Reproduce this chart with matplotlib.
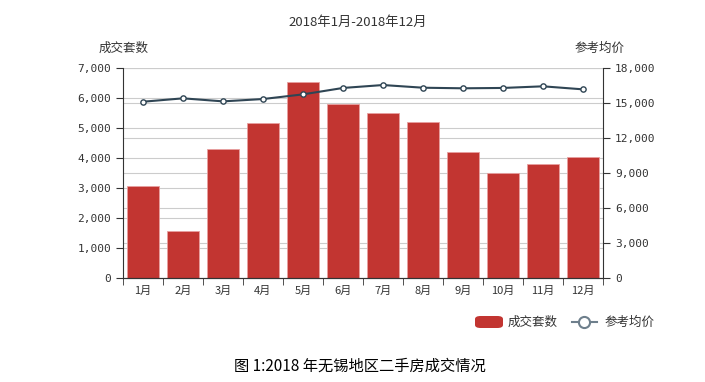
import matplotlib.pyplot as plt
import numpy as np
from matplotlib.ticker import FuncFormatter, FixedLocator
from matplotlib.patches import FancyBboxPatch

plt.rcParams['font.family'] = ['Noto Sans CJK SC', 'DejaVu Sans']

# data
months = ['1月', '2月', '3月', '4月', '5月', '6月', '7月', '8月', '9月', '10月', '11月', '12月']
deals = [3070, 1580, 4310, 5180, 6530, 5790, 5490, 5210, 4210, 3510, 3790, 4040]
avg_price = [15110, 15400, 15140, 15340, 15740, 16290, 16540, 16310, 16260, 16290, 16430, 16170]

bar_color = '#c23531'
line_color = '#2f4554'
axis_color = '#333333'
mono = ['DejaVu Sans Mono']

fig = plt.figure(figsize=(7.05, 3.82), dpi=100)
ax = fig.add_axes([123 / 705, 1 - 278 / 382, 480 / 705, 210 / 382])
ax2 = ax.twinx()

left_max, right_max = 7000, 18000
left_ticks = np.arange(0, left_max + 1, 1000)
right_ticks = np.arange(0, right_max + 1, 3000)

# grid lines of both axes, drawn behind the bars
for v in left_ticks[1:]:
    ax.axhline(v, color='#cccccc', linewidth=0.8, zorder=0)
for v in right_ticks[1:]:
    ax.axhline(v * left_max / right_max, color='#cccccc', linewidth=0.8, zorder=0)

x = np.arange(len(months))
ax.bar(x, deals, width=0.8, color=bar_color, edgecolor='#e8a0a0', linewidth=0.6, zorder=2)
ax.set_xlim(-0.5, len(months) - 0.5)
ax.set_ylim(0, left_max)
ax.set_yticks(left_ticks)
ax.yaxis.set_major_formatter(FuncFormatter(lambda v, p: f'{int(v):,}'))

ax2.plot(x, avg_price, color=line_color, linewidth=1.5, marker='o', markersize=3.8,
         markerfacecolor='white', markeredgecolor=line_color, markeredgewidth=1, zorder=5)
ax2.set_ylim(0, right_max)
ax2.set_yticks(right_ticks)
ax2.yaxis.set_major_formatter(FuncFormatter(lambda v, p: f'{int(v):,}'))

# ticks and spines
ax.set_xticks(x)
ax.set_xticklabels(months)
ax.xaxis.set_minor_locator(FixedLocator(np.arange(-0.5, len(months), 1)))
ax.tick_params(axis='x', which='major', length=0, pad=6, labelsize=8, colors=axis_color)
ax.tick_params(axis='x', which='minor', length=5, color=axis_color)
ax.tick_params(axis='y', length=5, color=axis_color, labelsize=8, labelcolor=axis_color)
ax2.tick_params(axis='y', length=5, color=axis_color, labelsize=8, labelcolor=axis_color)
for lab in ax.get_yticklabels() + ax2.get_yticklabels():
    lab.set_family(mono)
for a in (ax, ax2):
    a.spines['top'].set_visible(False)
    for s in ('left', 'right', 'bottom'):
        a.spines[s].set_color(axis_color)
ax2.spines['left'].set_visible(False)
ax.spines['right'].set_visible(False)

# titles
fig.text(358 / 705, 1 - 22 / 382, '2018年1月-2018年12月', ha='center', va='center',
         fontsize=9.5, color=axis_color)
fig.text(124 / 705, 1 - 48 / 382, '成交套数', ha='center', va='center', fontsize=9, color=axis_color)
fig.text(600 / 705, 1 - 48 / 382, '参考均价', ha='center', va='center', fontsize=9, color=axis_color)

# legend
ly = 1 - 322 / 382
fig.patches.append(FancyBboxPatch((475 / 705, ly - 6 / 382), 28 / 705, 12 / 382,
                                  boxstyle='round,pad=0,rounding_size=0.008',
                                  transform=fig.transFigure, facecolor=bar_color,
                                  edgecolor='none', figure=fig))
fig.text(508 / 705, ly, '成交套数', ha='left', va='center', fontsize=9, color=axis_color)
fig.lines.append(plt.Line2D([572 / 705, 597 / 705], [ly, ly], transform=fig.transFigure,
                            color='#6e7f8c', linewidth=1.5, figure=fig))
fig.lines.append(plt.Line2D([584 / 705], [ly], transform=fig.transFigure, marker='o',
                            markersize=8, markerfacecolor='white', markeredgecolor='#6e7f8c',
                            markeredgewidth=1.5, linestyle='none', figure=fig))
fig.text(605 / 705, ly, '参考均价', ha='left', va='center', fontsize=9, color=axis_color)

# caption
fig.text(360 / 705, 1 - 366 / 382, '图 1:2018 年无锡地区二手房成交情况', ha='center', va='center',
         fontsize=11, color='black')

fig.savefig('out.png', dpi=100)
